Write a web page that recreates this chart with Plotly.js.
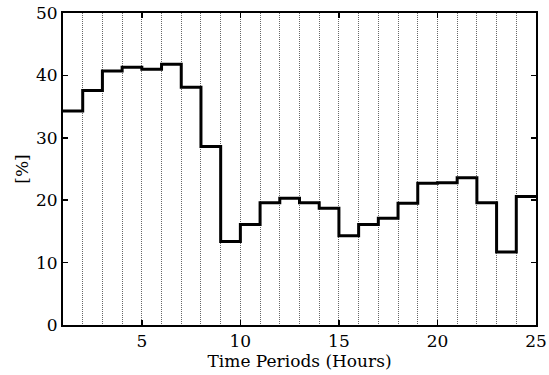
<!DOCTYPE html>
<html>
<head>
<script src="https://cdn.plot.ly/plotly-3.0.1.min.js"></script>
<style>html,body{margin:0;padding:0;background:#fff;}#chart{width:549px;height:375px;}</style>
</head>
<body>
<div id="chart"></div>
<script>
var periods = [1,2,3,4,5,6,7,8,9,10,11,12,13,14,15,16,17,18,19,20,21,22,23,24,25];
var percent = [34.3,37.6,40.7,41.3,41.0,41.8,38.1,28.6,13.4,16.1,19.6,20.3,19.6,18.7,14.3,16.1,17.1,19.5,22.7,22.8,23.6,19.6,11.7,20.6,20.6];
var xTicks = [5,10,15,20,25];
var yTicks = [0,10,20,30,40,50];

var font = {family: 'DejaVu Serif, serif', size: 17, color: '#000'};

Plotly.newPlot('chart', [{
  x: periods,
  y: percent,
  type: 'scatter',
  mode: 'lines',
  line: {shape: 'hv', color: '#000', width: 3},
  hoverinfo: 'skip'
}], {
  width: 549, height: 375,
  margin: {l: 63, r: 13, t: 13, b: 50},
  paper_bgcolor: '#fff', plot_bgcolor: '#fff',
  showlegend: false,
  font: font,
  xaxis: {
    range: [1, 25],
    tickvals: xTicks,
    ticktext: xTicks.map(String),
    ticks: 'inside', ticklen: 5, tickwidth: 1.5, tickcolor: '#000',
    mirror: 'ticks', showline: true, linecolor: '#000', linewidth: 2,
    showgrid: false, zeroline: false,
    minor: {dtick: 1, tick0: 1, showgrid: true, gridcolor: '#666', griddash: '1px,1px', gridwidth: 1, ticks: ''},
    tickfont: font,
    title: {text: 'Time Periods (Hours)', font: font, standoff: 0}
  },
  yaxis: {
    range: [0, 50],
    tickvals: yTicks,
    ticks: 'inside', ticklen: 5, tickwidth: 1.5, tickcolor: '#000',
    mirror: 'ticks', showline: true, linecolor: '#000', linewidth: 2,
    showgrid: false, zeroline: false,
    tickfont: font,
    title: {text: '[%]', font: font, standoff: 3}
  }
}, {staticPlot: true, displayModeBar: false});
</script>
</body>
</html>
